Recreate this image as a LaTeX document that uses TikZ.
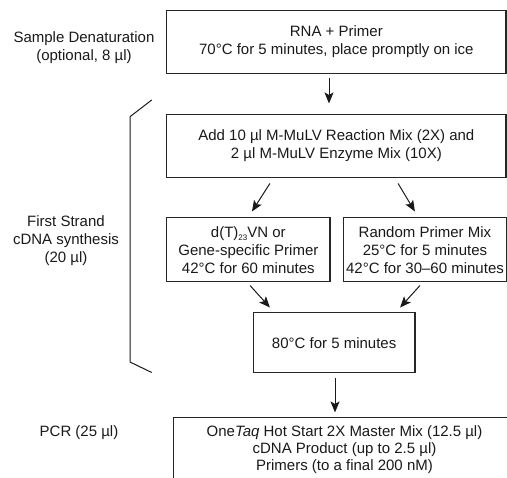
\documentclass[tikz,border=0pt]{standalone}
\usepackage{fontspec}
\setmainfont{Liberation Sans}
\usetikzlibrary{arrows.meta}
\begin{document}
\begin{tikzpicture}[x=1pt,y=-1pt,
  box/.style={draw=black!85, line width=1.1pt, align=center, inner sep=0pt, font=\fontsize{15}{18}\selectfont, text=black!90},
  lbl/.style={align=center, font=\fontsize{15}{18}\selectfont, text=black!90},
  arr/.style={line width=1pt, draw=black!90, -{Stealth[length=11pt,width=9pt,inset=2.5pt]}},
  brk/.style={line width=1pt, draw=black!90},
]
\useasboundingbox (0,0) rectangle (507,478);
\clip (0,0) rectangle (507,478);

\node[box, minimum width=339.3pt, minimum height=62.6pt] (b1) at (336.35,42) {RNA + Primer\\70°C for 5 minutes, place promptly on ice};
\node[box, minimum width=339.3pt, minimum height=63pt] (b2) at (336.35,145.8) {Add 10 µl M-MuLV Reaction Mix (2X) and\\2 µl M-MuLV Enzyme Mix (10X)};
\node[box, minimum width=163.3pt, minimum height=64pt] (b3) at (248.35,249.7) {d(T)\raisebox{-3pt}{\fontsize{8}{8}\selectfont 23}VN or\\Gene-specific Primer\\42°C for 60 minutes};
\node[box, minimum width=163.4pt, minimum height=64pt] (b4) at (425,249.7) {Random Primer Mix\\25°C for 5 minutes\\42°C for 30–60 minutes};
\node[box, minimum width=161.7pt, minimum height=60pt] (b5) at (334.15,342.7) {80°C for 5 minutes};
\node[box, font=\fontsize{15}{17}\selectfont, minimum width=342.4pt, minimum height=64.6pt] (b6) at (344.5,450) {One\textit{Taq} Hot Start 2X Master Mix (12.5 µl)\\cDNA Product (up to 2.5 µl)\\Primers (to a final 200 nM)};

\node[lbl] (l1) at (84,48) {Sample Denaturation\\(optional, 8 µl)};
\node[lbl] (l2) at (66,241) {First Strand\\cDNA synthesis\\(20 µl)};
\node[lbl] (l3) at (79,433) {PCR (25 µl)};

\draw[arr, shorten <=3.7pt, shorten >=10.3pt] ([xshift=-7.35pt]b1.south) -- ([xshift=-7.35pt]b2.north);
\draw[arr, shorten <=6.7pt, shorten >=6.7pt] ([xshift=-62.85pt]b2.south) -- (b3.north);
\draw[arr, shorten <=6.6pt, shorten >=6.6pt] ([xshift=58.35pt]b2.south) -- ([xshift=-6.7pt]b4.north);
\draw[arr, shorten <=4.4pt, shorten >=6.2pt] ([xshift=-1.25pt]b3.south) -- ([xshift=-60.05pt]b5.north);
\draw[arr, shorten <=4.4pt, shorten >=6.2pt] ([xshift=-2.1pt]b4.south) -- ([xshift=61.75pt]b5.north);
\draw[arr, shorten <=4.3pt, shorten >=4.7pt] ([xshift=0.85pt]b5.south) -- ([xshift=-9.5pt]b6.north);

\coordinate (k1) at (151.7,100);
\coordinate (k2) at (130,116.7);
\coordinate (k3) at (130,362);
\coordinate (k4) at (151.7,372.5);
\draw[brk] (k1) -- (k2) -- (k3) -- (k4);
\end{tikzpicture}
\end{document}
